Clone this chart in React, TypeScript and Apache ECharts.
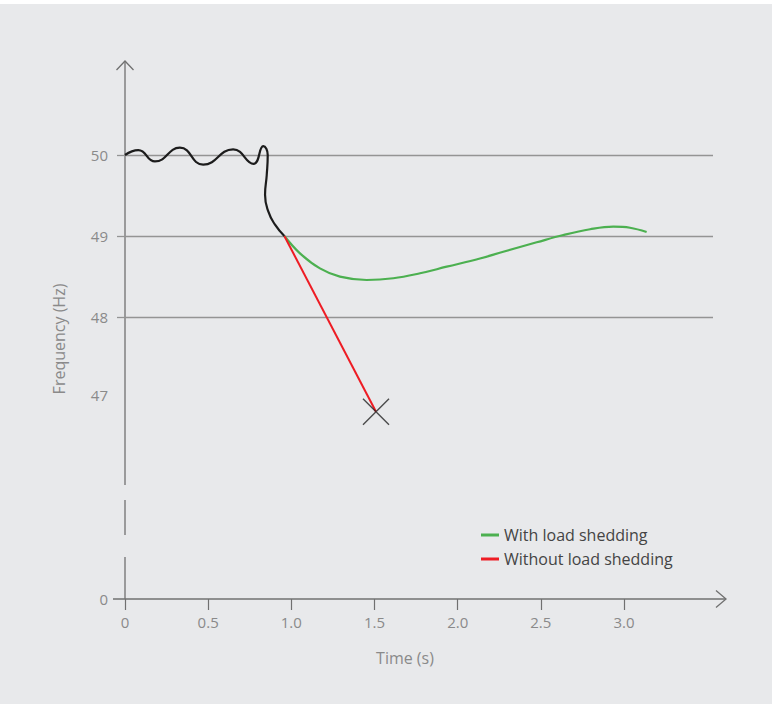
import React, { useEffect, useRef } from "react";
import * as echarts from "echarts";

// Time (s), Frequency (Hz)
const beforeEvent: [number, number][] = [
  [0, 50.0],
  [0.08, 50.06],
  [0.18, 49.92],
  [0.33, 50.09],
  [0.47, 49.88],
  [0.65, 50.07],
  [0.773, 49.89],
  [0.831, 50.11],
  [0.858, 50.0],
  [0.852, 49.75],
  [0.842, 49.51],
  [0.862, 49.3],
  [0.902, 49.14],
  [0.958, 49.0],
];

const withShedding: [number, number][] = [
  [0.958, 49.0],
  [1.052, 48.786],
  [1.172, 48.6],
  [1.292, 48.498],
  [1.453, 48.457],
  [1.613, 48.478],
  [1.774, 48.54],
  [1.934, 48.621],
  [2.134, 48.722],
  [2.274, 48.806],
  [2.475, 48.922],
  [2.635, 49.012],
  [2.796, 49.083],
  [2.936, 49.115],
  [3.036, 49.102],
  [3.136, 49.049],
];

const withoutShedding: [number, number][] = [
  [0.958, 49.0],
  [1.509, 46.83],
];

const xTicks = [0, 0.5, 1.0, 1.5, 2.0, 2.5, 3.0];
const yZero = 44.5185; // where the broken axis shows "0"
const yLabelValues = [yZero, 47.04, 48, 49, 50];
const gridLineValues = [48, 49, 50];

const FONT = "Open Sans";

export default function App() {
  const ref = useRef<HTMLDivElement>(null);
  useEffect(() => {
    if (!ref.current) return;
    const chart = echarts.init(ref.current, undefined, { renderer: "svg" });
    const G = { left: 125, top: 62, right: 59, bottom: 105 };
    const W = 772;
    const H = 704;
    const axisX = G.left;
    const axisY = H - G.bottom;
    const axisColor = "#707070";
    const gridColor = "#949494";
    const lab = "#8a8a8a";

    chart.setOption({
      animation: false,
      backgroundColor: "#e8e9eb",
      textStyle: { fontFamily: FONT },
      grid: { left: G.left, top: G.top, right: G.right, bottom: G.bottom, containLabel: false },
      legend: {
        orient: "vertical",
        left: 476,
        top: 520,
        icon: "rect",
        itemWidth: 18,
        itemHeight: 3,
        itemGap: 4,
        data: ["With load shedding", "Without load shedding"],
        textStyle: { color: "#444", fontSize: 16, fontFamily: FONT, lineHeight: 20 },
      },
      xAxis: {
        type: "value",
        min: 0,
        max: 3.535,
        axisLine: { show: false },
        splitLine: { show: false },
        axisTick: {
          show: true,
          customValues: xTicks,
          length: 11,
          lineStyle: { color: axisColor, width: 1.2 },
        },
        axisLabel: {
          customValues: xTicks,
          color: lab,
          fontSize: 15,
          fontFamily: FONT,
          margin: 15,
          formatter: (v: number) => (v === 0 ? "0" : v.toFixed(1)),
        },
      },
      yAxis: {
        type: "value",
        min: yZero,
        max: 51.148,
        axisLine: { show: false },
        splitLine: { show: false },
        axisTick: {
          show: true,
          customValues: gridLineValues,
          length: 8,
          lineStyle: { color: gridColor, width: 1.3 },
        },
        axisLabel: {
          customValues: yLabelValues,
          color: lab,
          fontSize: 15,
          fontFamily: FONT,
          margin: 17,
          formatter: (v: number) => (v < 45 ? "0" : String(Math.round(v))),
        },
      },
      graphic: [
        { type: "rect", z: -10, shape: { x: 0, y: 0, width: W, height: 4 }, style: { fill: "#ffffff" }, silent: true },
        // y axis (broken)
        { type: "line", shape: { x1: axisX, y1: G.top - 1, x2: axisX, y2: 485 }, style: { stroke: axisColor, lineWidth: 1.3 } },
        { type: "line", shape: { x1: axisX, y1: 500, x2: axisX, y2: 535 }, style: { stroke: axisColor, lineWidth: 1.3 } },
        { type: "line", shape: { x1: axisX, y1: 557, x2: axisX, y2: axisY }, style: { stroke: axisColor, lineWidth: 1.3 } },
        {
          type: "polyline",
          shape: { points: [[axisX - 8.5, G.top + 8], [axisX, G.top - 1], [axisX + 8.5, G.top + 8]] },
          style: { stroke: axisColor, lineWidth: 1.3, fill: null },
        },
        // x axis
        { type: "line", shape: { x1: 113, y1: axisY, x2: 726, y2: axisY }, style: { stroke: axisColor, lineWidth: 1.3 } },
        {
          type: "polyline",
          shape: { points: [[716, axisY - 8.5], [726, axisY], [716, axisY + 8.5]] },
          style: { stroke: axisColor, lineWidth: 1.3, fill: null },
        },
        {
          type: "text",
          x: 405,
          y: 658,
          style: { text: "Time (s)", fill: lab, fontSize: 16, fontFamily: FONT, align: "center", verticalAlign: "middle" },
        },
        {
          type: "text",
          x: 59,
          y: 339,
          rotation: Math.PI / 2,
          style: { text: "Frequency (Hz)", fill: lab, fontSize: 16, fontFamily: FONT, align: "center", verticalAlign: "middle" },
        },
      ],
      series: [
        {
          name: "Before event",
          type: "line",
          data: beforeEvent,
          smooth: 0.5,
          showSymbol: false,
          z: 4,
          lineStyle: { color: "#1c1c1c", width: 2.2 },
          itemStyle: { color: "#1c1c1c" },
          markLine: {
            silent: true,
            symbol: "none",
            label: { show: false },
            z: 1,
            lineStyle: { color: gridColor, width: 1.3, type: "solid" },
            data: gridLineValues.map((v) => ({ yAxis: v })),
          },
        },
        {
          name: "With load shedding",
          type: "line",
          data: withShedding,
          smooth: 0.4,
          showSymbol: false,
          z: 3,
          lineStyle: { color: "#4cb050", width: 2.2 },
          itemStyle: { color: "#4cb050" },
        },
        {
          name: "Without load shedding",
          type: "line",
          data: withoutShedding,
          showSymbol: false,
          z: 3,
          lineStyle: { color: "#ee1c24", width: 2 },
          itemStyle: { color: "#ee1c24" },
        },
        {
          name: "Collapse",
          type: "scatter",
          data: [withoutShedding[withoutShedding.length - 1]],
          symbol: "path://M0,0L10,10M10,0L0,10",
          symbolSize: 26,
          z: 5,
          itemStyle: { color: "none", borderColor: "#222", borderWidth: 1.4 },
        },
      ],
    });
    return () => chart.dispose();
  }, []);
  return <div ref={ref} style={{ position: "fixed", left: 0, top: 0, width: 772, height: 704 }} />;
}
